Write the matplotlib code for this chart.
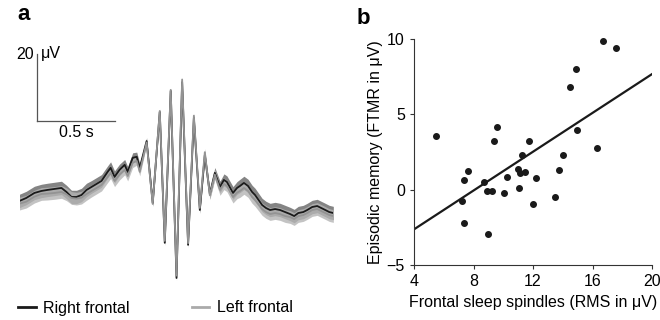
import numpy as np
import matplotlib
matplotlib.use('Agg')
import matplotlib.pyplot as plt

plt.rcParams['font.family'] = ['Liberation Sans', 'DejaVu Sans']

# panel a: spindle average (time in s, amplitude in uV)
t_s = [-1.004, -0.960, -0.908, -0.863, -0.825, -0.780, -0.735, -0.703, -0.671, -0.639,
       -0.607, -0.575, -0.543, -0.511, -0.479, -0.440, -0.421, -0.396, -0.364, -0.331,
       -0.312, -0.280, -0.254, -0.235,
       -0.191, -0.152, -0.107, -0.075, -0.037, 0.0, 0.036, 0.074, 0.111,
       0.149, 0.181, 0.213, 0.245, 0.278, 0.303, 0.322, 0.361, 0.387, 0.406,
       0.431, 0.457, 0.483, 0.502, 0.547, 0.572, 0.598, 0.630, 0.662, 0.694,
       0.726, 0.752, 0.778, 0.810, 0.835, 0.867, 0.899, 0.925, 0.951, 0.976,
       1.002]
right_uv = [-3.3, -2.4, -0.9, -0.3, 0.0, 0.3, 0.6, -0.6, -2.1, -2.1,
            -1.5, 0.0, 0.9, 1.8, 2.7, 5.4, 6.6, 3.9, 6.0, 7.5,
            5.4, 9.6, 9.9, 6.6,
            14.6, -3.9, 23.3, -15.8, 29.6, -26.3, 32.2, -16.4, 21.5,
            -6.0, 10.4, -1.2, 5.1, 0.9, 3.0, 2.4, -0.9, 0.6, 1.2,
            2.1, 1.2, -0.6, -1.5, -4.5, -5.4, -6.0, -5.7, -6.0, -6.6,
            -7.2, -7.8, -6.9, -6.6, -6.0, -5.1, -4.8, -5.4, -6.0, -6.6,
            -6.9]
left_uv = [-4.1, -3.5, -2.0, -1.2, -1.1, -0.9, -0.6, -1.3, -2.4, -2.6,
           -2.3, -1.2, -0.3, 0.6, 1.5, 3.9, 5.1, 2.7, 4.6, 6.0,
           4.2, 8.1, 8.7, 5.4,
           14.2, -4.2, 23.6, -15.2, 29.9, -25.6, 33.0, -15.9, 22.2,
           -5.4, 11.3, -1.6, 4.6, 0.0, 1.8, 1.2, -2.1, -0.8, -0.3,
           0.6, -0.3, -2.1, -3.0, -5.7, -6.6, -7.2, -6.9, -7.2, -7.8,
           -8.1, -8.7, -7.8, -7.5, -6.9, -6.0, -5.7, -6.3, -6.9, -7.5,
           -7.8]
right_sem = [2.0, 2.0, 2.0, 2.0, 2.0, 2.0, 2.0, 2.0, 2.0, 2.0,
             2.0, 2.0, 1.9, 1.9, 1.9, 1.8, 1.8, 1.8, 1.7, 1.6,
             1.6, 1.5, 1.4, 1.3,
             1.0, 0.9, 0.8, 0.8, 0.7, 0.7, 0.7, 0.8, 0.9,
             1.0, 1.2, 1.4, 1.6, 1.7, 1.8, 1.8, 1.9, 1.9, 2.0,
             2.0, 2.0, 2.0, 2.0, 2.0, 2.0, 2.0, 2.0, 2.0, 2.0,
             2.0, 2.0, 2.0, 2.0, 2.0, 2.0, 2.0, 2.0, 2.0, 2.0,
             2.0]
left_sem = [1.9, 1.9, 1.9, 1.9, 1.9, 1.9, 1.9, 1.9, 1.9, 1.9,
            1.9, 1.9, 1.8, 1.8, 1.8, 1.7, 1.7, 1.7, 1.6, 1.5,
            1.5, 1.4, 1.3, 1.2,
            0.9, 0.8, 0.7, 0.7, 0.6, 0.6, 0.6, 0.7, 0.8,
            0.9, 1.1, 1.3, 1.5, 1.6, 1.7, 1.7, 1.8, 1.8, 1.9,
            1.9, 1.9, 1.9, 1.9, 1.9, 1.9, 1.9, 1.9, 1.9, 1.9,
            1.9, 1.9, 1.9, 1.9, 1.9, 1.9, 1.9, 1.9, 1.9, 1.9,
            1.9]

# panel b: scatter (RMS in uV vs FTMR in uV)
rms = [5.48, 7.34, 7.63, 7.25, 7.37, 8.71, 8.89, 9.25, 8.98, 9.36,
       9.56, 10.08, 10.26, 11.02, 11.14, 11.47, 11.07, 11.29, 11.72, 11.97,
       12.21, 13.45, 13.72, 14.03, 14.52, 14.86, 14.95, 16.30, 16.68, 17.55]
ftmr = [3.58, 0.62, 1.26, -0.75, -2.19, 0.53, -0.09, -0.09, -2.96, 3.21,
        4.18, -0.20, 0.84, 1.37, 1.08, 1.19, 0.13, 2.32, 3.25, -0.97,
        0.80, -0.46, 1.31, 2.30, 6.84, 8.03, 3.94, 2.74, 9.85, 9.42]
fit_slope = 0.644
fit_intercept = -5.21

fs = 11.5

fig = plt.figure(figsize=(6.6, 3.2), dpi=100)

# ---- panel a
axa = fig.add_axes([20/660, 1-285/320, 313/660, 245/320])
axa.set_xlim(-1.0, 1.0)
axa.set_ylim(-28.4, 44.8)
axa.axis('off')

t = np.array(t_s)
r = np.array(right_uv)
l = np.array(left_uv)
axa.fill_between(t, r - np.array(right_sem), r + np.array(right_sem),
                 color='#6e6e6e', lw=0, alpha=0.85)
axa.fill_between(t, l - np.array(left_sem), l + np.array(left_sem),
                 color='#b5b5b5', lw=0, alpha=0.8)
axa.plot(t, r, color='#1a1a1a', lw=1.3)
axa.plot(t, l, color='#939393', lw=1.3)

# scale bar 20 uV / 0.5 s
sx = -0.89
sy = 20.6
axa.plot([sx, sx], [sy, sy + 20], color='#555555', lw=0.9, clip_on=False)
axa.plot([sx, sx + 0.5], [sy, sy], color='#555555', lw=0.9, clip_on=False)
axa.text(sx - 0.02, sy + 19.8, '20', ha='right', va='center', fontsize=fs)
axa.text(sx + 0.025, sy + 20.2, 'μV', ha='left', va='center', fontsize=fs)
axa.text(sx + 0.25, sy - 1.2, '0.5 s', ha='center', va='top', fontsize=fs)

fig.text(17/660, 1-15/320, 'a', fontsize=16, fontweight='bold', ha='left', va='center')
fig.text(357/660, 1-18/320, 'b', fontsize=16, fontweight='bold', ha='left', va='center')

# legend
h1, = axa.plot([], [], color='#1a1a1a', lw=2, label='Right frontal')
h2, = axa.plot([], [], color='#aaaaaa', lw=2, label='Left frontal')
fig.legend(handles=[h1, h2], loc='center left', bbox_to_anchor=(4/660, 1-308/320),
           ncol=2, frameon=False, fontsize=fs, handlelength=1.1, handletextpad=0.45,
           columnspacing=3.9)

# ---- panel b
axb = fig.add_axes([414/660, 1-265/320, 238/660, 226/320])
axb.scatter(rms, ftmr, s=16, color='#1a1a1a', zorder=3, clip_on=False)
xf = np.array([4, 20])
axb.plot(xf, fit_intercept + fit_slope * xf, color='#1a1a1a', lw=1.6)
axb.set_xlim(4, 20)
axb.set_ylim(-5, 10)
axb.set_xticks([4, 8, 12, 16, 20])
axb.set_yticks([-5, 0, 5, 10])
axb.set_yticklabels(['\u22125', '0', '5', '10'])
axb.spines['top'].set_visible(False)
axb.spines['right'].set_visible(False)
for s in ['left', 'bottom']:
    axb.spines[s].set_linewidth(0.8)
    axb.spines[s].set_color('#333333')
axb.tick_params(direction='out', length=3, width=0.8, labelsize=fs, color='#333333')
axb.set_xlabel('Frontal sleep spindles (RMS in μV)', fontsize=fs, labelpad=4)
axb.set_ylabel('Episodic memory (FTMR in μV)', fontsize=fs, labelpad=3)

fig.savefig('out.png', dpi=100)
